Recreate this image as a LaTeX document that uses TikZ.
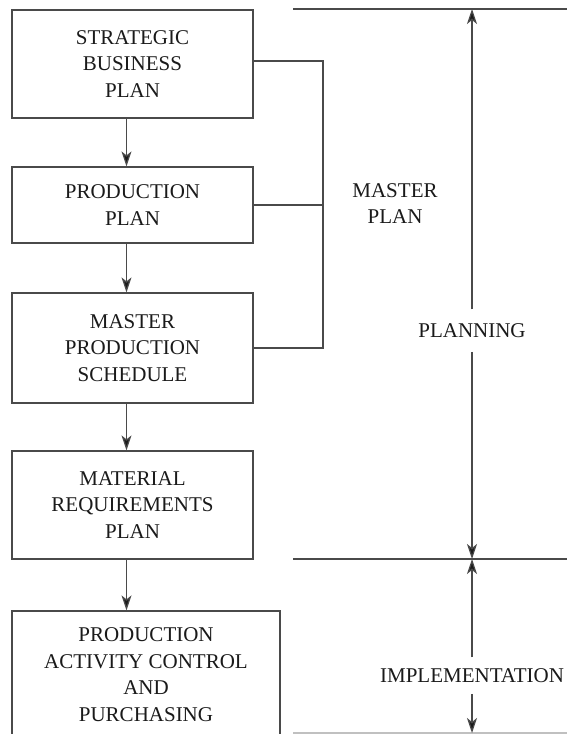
\documentclass[tikz,border=0pt]{standalone}
\usepackage{fontspec}
\setmainfont{Liberation Serif}
\usetikzlibrary{arrows.meta}
\definecolor{ln}{HTML}{4A4A4A}
\definecolor{tx}{HTML}{1A1A1A}
\begin{document}
\begin{tikzpicture}[x=1pt,y=-1pt,
  lbl/.style={font=\fontsize{21}{26.7}\selectfont, text=tx, align=center},
  stepbox/.style={lbl, draw=ln, line width=1.2pt, inner sep=0pt},
  ln/.style={draw=ln, line width=1.2pt},
  arr/.style={ln, arrows={-Stealth[length=15pt,width=10pt,inset=4pt,fill=tx]}}]
\useasboundingbox (0,0) rectangle (567,734);
\clip (0,0) rectangle (567,734);
\fill[white] (0,0) rectangle (567,734);
% boxes
\node[stepbox, minimum width=241pt, minimum height=108pt] (b1) at (132.5,64) {STRATEGIC\\BUSINESS\\PLAN};
\node[stepbox, minimum width=241pt, minimum height=76pt] (b2) at (132.5,205) {PRODUCTION\\PLAN};
\node[stepbox, minimum width=241pt, minimum height=110pt] (b3) at (132.5,348) {MASTER\\PRODUCTION\\SCHEDULE};
\node[stepbox, minimum width=241pt, minimum height=108pt] (b4) at (132.5,505) {MATERIAL\\REQUIREMENTS\\PLAN};
\node[stepbox, minimum width=268pt, minimum height=127pt] (b5) at (146,674.5) {PRODUCTION\\ACTIVITY CONTROL\\AND\\PURCHASING};
% vertical flow arrows
\coordinate (ax) at (126.5,0);
\draw[arr] (b1.south -| ax) -- (b2.north -| ax);
\draw[arr] (b2.south -| ax) -- (b3.north -| ax);
\draw[arr] (b3.south -| ax) -- (b4.north -| ax);
\draw[arr] (b4.south -| ax) -- (b5.north -| ax);
% master plan bracket
\coordinate (bx) at (323,0);
\draw[ln] ([yshift=3pt]b1.east) -- ([yshift=3pt]b1.east -| bx) |- (b3.east);
\draw[ln] (b2.east) -- (b2.east -| bx);
\node[lbl] (mp) at (395,203.5) {MASTER\\PLAN};
% horizontal reference lines
\coordinate (t1) at (293,9);   \coordinate (t2) at (567,9);
\coordinate (m1) at (293,559); \coordinate (m2) at (567,559);
\coordinate (e1) at (293,733); \coordinate (e2) at (567,733);
\draw[ln] (t1) -- (t2);
\draw[ln] (m1) -- (m2);
\draw[draw=ln!35, line width=1.2pt] (e1) -- (e2);
% span labels
\coordinate (vx) at (472,0);
\node[lbl, inner xsep=0pt, inner ysep=14pt] (pl) at (472,330.5) {PLANNING};
\node[lbl, inner xsep=0pt, inner ysep=11pt] (im) at (472,675.5) {IMPLEMENTATION};
\draw[arr] (pl.north) -- (t1 -| vx);
\draw[arr] (pl.south) -- (m1 -| vx);
\draw[arr] (im.north) -- (m1 -| vx);
\draw[arr] (im.south) -- (e1 -| vx);
\end{tikzpicture}
\end{document}
